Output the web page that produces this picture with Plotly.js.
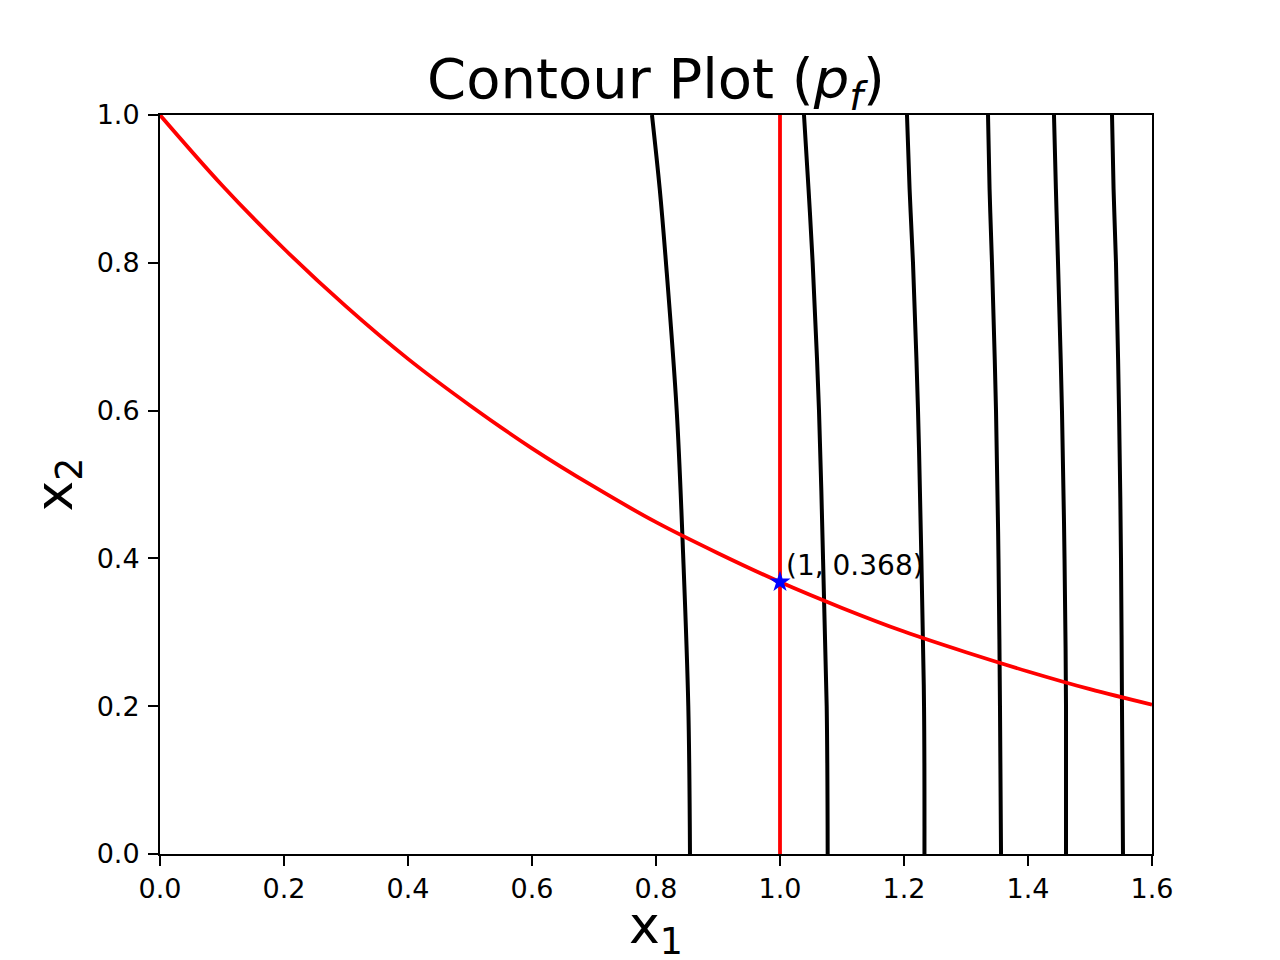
<!DOCTYPE html>
<html>
<head>
<meta charset="utf-8">
<script src="https://cdn.plot.ly/plotly-3.0.1.min.js"></script>
<style>html,body{margin:0;padding:0;background:#fff;}#chart{width:1280px;height:960px;}</style>
</head>
<body>
<div id="chart"></div>
<script>
// Contour levels: x1 positions at given x2 heights
const contourX2 = [0, 0.2, 0.4, 0.6, 0.8, 0.9, 1.0];
const contour1 = [0.8548, 0.8521, 0.8440, 0.8334, 0.8161, 0.8060, 0.7935];
const contour2 = [1.0769, 1.0753, 1.0694, 1.0629, 1.0527, 1.0460, 1.0387];
const contour3 = [1.2330, 1.2323, 1.2280, 1.2226, 1.2145, 1.2090, 1.2048];
const contour4 = [1.3565, 1.3548, 1.3524, 1.3484, 1.3419, 1.3380, 1.3355];
const contour5 = [1.4613, 1.4613, 1.4589, 1.4548, 1.4484, 1.4450, 1.4419];
const contour6 = [1.5532, 1.5516, 1.5500, 1.5468, 1.5419, 1.5380, 1.5355];

// Red constraint curve
const curveX1 = [0, 0.1, 0.2, 0.3, 0.4, 0.5, 0.6, 0.7, 0.8, 0.9, 1.0, 1.1, 1.2, 1.3, 1.4, 1.5, 1.6];
const curveX2 = [1.0, 0.905, 0.819, 0.741, 0.670, 0.607, 0.549, 0.497, 0.449, 0.407, 0.368, 0.333, 0.301, 0.273, 0.247, 0.223, 0.202];

// Vertical red line
const vlineX1 = [1, 1];
const vlineX2 = [0, 1];

// Optimum point
const optX1 = [1];
const optX2 = [0.368];
const optLabel = "(1, 0.368)";

const xTicks = [0, 0.2, 0.4, 0.6, 0.8, 1.0, 1.2, 1.4, 1.6];
const yTicks = [0, 0.2, 0.4, 0.6, 0.8, 1.0];
const xTitle = 'x<sub>1</sub>';
const yTitle = 'x<sub>2</sub>';

const contours = [contour1, contour2, contour3, contour4, contour5, contour6];
const traces = contours.map(c => ({
  x: c, y: contourX2, type: 'scatter', mode: 'lines',
  line: {color: 'black', width: 4, shape: 'spline'},
  hoverinfo: 'skip', showlegend: false
}));
traces.push({x: curveX1, y: curveX2, type: 'scatter', mode: 'lines',
  line: {color: 'red', width: 3.8, shape: 'spline'}, showlegend: false});
traces.push({x: vlineX1, y: vlineX2, type: 'scatter', mode: 'lines',
  line: {color: 'red', width: 3.8}, showlegend: false});
traces.push({x: optX1, y: optX2, type: 'scatter', mode: 'markers',
  marker: {symbol: 'star', size: 16, color: 'blue', line: {width: 0}}, showlegend: false});

const font = 'DejaVu Sans, sans-serif';
const axisCommon = {
  showgrid: false, zeroline: false, showline: true, linecolor: 'black', linewidth: 2,
  mirror: true, ticks: 'outside', ticklen: 10, tickwidth: 2, tickcolor: 'black',
  tickfont: {family: font, size: 27, color: 'black'}, tickformat: '.1f', automargin: false
};

const layout = {
  width: 1280, height: 960,
  margin: {l: 160, r: 128, t: 115, b: 106},
  paper_bgcolor: 'white', plot_bgcolor: 'white',
  font: {family: font, color: 'black'},
  title: {text: 'Contour Plot (<i>p</i><sub><i>f</i></sub>)', font: {family: font, size: 56, color: 'black'},
    x: 0.5, xanchor: 'center', xref: 'paper', y: 1, yanchor: 'bottom', yref: 'paper', pad: {b: 17}},
  xaxis: Object.assign({}, axisCommon, {range: [0, 1.6], tickvals: xTicks}),
  yaxis: Object.assign({}, axisCommon, {range: [0, 1], tickvals: yTicks, ticklabelstandoff: 3}),
  annotations: [
    {x: optX1[0], y: optX2[0], xref: 'x', yref: 'y', text: optLabel, showarrow: false,
      xanchor: 'left', yanchor: 'bottom', xshift: 4, yshift: -2,
      font: {family: font, size: 28, color: 'black'}},
    {x: 0.5, y: 0, xref: 'paper', yref: 'paper', text: xTitle, showarrow: false,
      xanchor: 'center', yanchor: 'top', yshift: -39,
      font: {family: font, size: 52, color: 'black'}},
    {x: 0, y: 0.5, xref: 'paper', yref: 'paper', text: yTitle, showarrow: false, textangle: -90,
      xanchor: 'right', yanchor: 'middle', xshift: -67,
      font: {family: font, size: 52, color: 'black'}}
  ]
};

Plotly.newPlot('chart', traces, layout, {displayModeBar: false, staticPlot: true});
</script>
</body>
</html>
